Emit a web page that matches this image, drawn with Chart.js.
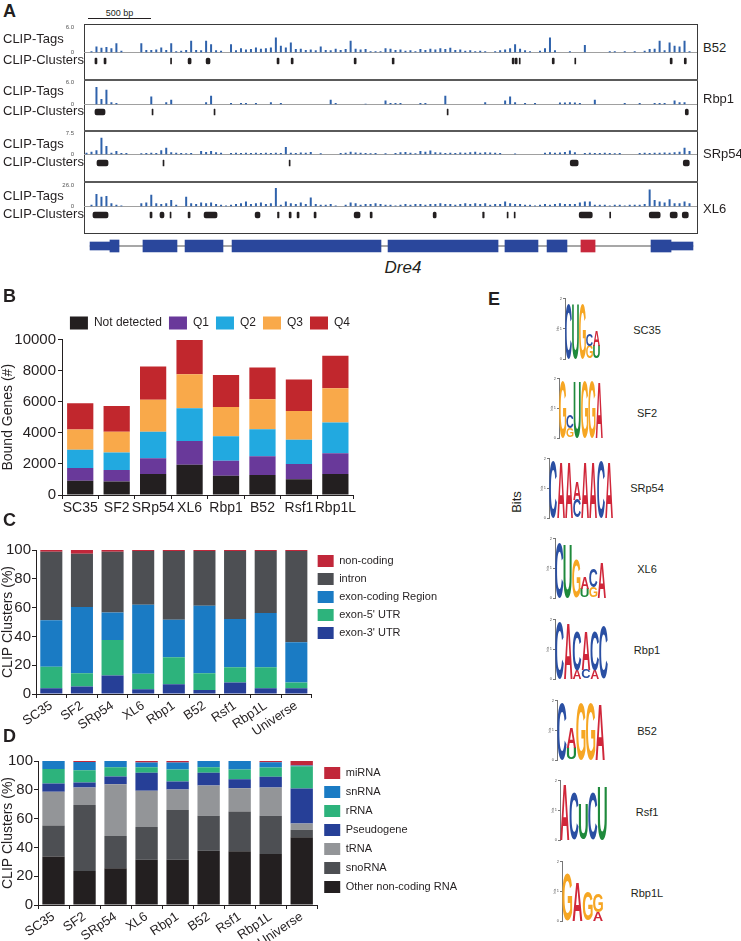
<!DOCTYPE html>
<html>
<head>
<meta charset="utf-8">
<script src="https://cdn.jsdelivr.net/npm/chart.js@4.4.0/dist/chart.umd.min.js"></script>
<style>
  body { margin: 0; width: 741px; height: 941px; position: relative; overflow: hidden; background: #fff;
         font-family: "Liberation Sans", Arial, Helvetica, sans-serif; color: #231f20; }
  .t { position: absolute; white-space: nowrap; line-height: 1; }
</style>
</head>
<body>
<script>
// ---------- data ----------
const GENOME_LEN = 4865;          // bp shown in panel A
const TRACK_NAMES = ['B52', 'Rbp1', 'SRp54', 'XL6'];
const TRACK_MAX = [6.0, 6.0, 7.5, 26.0];

// CLIP tag counts in 40 bp bins along Dre4
const tagsB52 = [0,0.3,1.4,1.1,1.3,1.0,2.2,0.4,0,0, 0,2.2,0.6,0.6,0.7,1.2,0.6,2.2,0.3,0.4,
  0.6,2.8,0.6,0.5,2.8,2.0,0.5,0.4,0,2.0, 0.5,1.0,0.7,0.8,1.2,0.9,1.0,1.2,3.6,1.6,
  1.2,2.4,0.8,0.9,0.6,0.7,0.5,1.4,0.6,0.5, 0.9,0.6,0.8,2.8,0.9,0.7,0.8,0.3,0.3,0.3,
  1.0,0.9,0.6,0.7,0.4,0.5,0.3,0.8,0.6,0.9, 0.7,1.0,0.8,1.1,0.6,0.7,0.4,0.5,0.3,0.4,
  0.3,0,0.3,0.5,0.7,1.0,2.0,0.9,0.5,0.3, 0,0.4,1.0,3.6,0.5,0,0,0.3,0,0,
  1.8,0,0,0,0,0.3,0.3,0,0.3,0, 0.3,0,0.4,0.8,0.9,2.8,0.5,2.4,1.6,1.4, 2.8,0.3,0];
const tagsRbp1 = [0,0,4.8,1.5,4.0,0.6,0.4,0,0,0, 0,0,0,2.2,0,0,0.6,1.3,0,0,
  0,0,0,0,0.6,2.4,0,0,0,0.4, 0,0.4,0.4,0,0.4,0,0,0.6,0,0.4,
  0,0,0,0,0,0,0,0,0,1.3, 0.4,0,0,0,0,0,0.2,0,0,0,
  1.1,0.4,0.4,0.4,0,0,0,0.4,0.4,0, 0,0,2.4,0,0,0,0,0,0,0,
  0.6,0,0,0,1.1,2.2,0.6,0,0.4,0, 0.4,0,0,0,0,0.5,0.5,0.6,0.5,0.4,
  0,0,1.3,0,0,0,0,0,0.4,0, 0,0.4,0,0,0.4,0.4,0.4,0,1.1,0.6, 0.6,0,0];
const tagsSRp54 = [0.6,1.0,1.5,6.0,3.0,0.6,1.2,0.5,0.5,0, 0,0.4,0.5,0.6,0.5,1.5,2.4,0.8,0.6,0.5,
  0.4,0.5,0,1.2,0.9,1.2,0.8,0.6,0,0.5, 0.6,0.5,0.6,0.5,0.6,0.5,0.6,0.5,0.6,0.5,
  2.7,0.6,0.5,0.7,0.6,0.9,0,0.4,0,0, 0,0.5,0.6,1.0,0.7,0.6,0.5,0.4,0.5,0,
  0.4,0,0.5,0.8,0.9,0.6,0.4,1.2,1.0,1.4, 0.8,0.7,0.5,0.6,0.5,0.7,0.6,0.8,1.0,0.6,
  0.8,0.7,0.6,0.5,0,0,0.3,0,0,0, 0,0,0.6,0.8,0.6,0.7,0.9,1.4,0.8,0,
  0.5,0.6,0.5,0.5,0.6,0.5,0.4,0.5,0,0, 0,0.5,0.6,0.5,0.6,0.6,0.7,0.6,0.8,1.0, 2.4,1.2,0];
const tagsXL6 = [0,2,15.6,12,13,4,2,1,0,0, 0,4,5,14.5,4,3,4,8,2,0,
  12,4,3,5,4,5,3,2,1,2, 3,4,6,3,4,5,3,4,23,2,
  6,4,3,5,3,11,3,2,2,3, 1,0,2,5,4,2,3,3,4,3,
  2,2,1,2,3,2,3,3,2,3, 3,4,3,3,2,3,4,3,4,3,
  4,2,3,3,6,4,3,3,2,2, 1,2,3,2,3,4,3,3,3,5,
  6,6,2,2,2,1,2,2,1,2, 2,2,3,21,8,6,5,9,4,4, 6,4,0];

// CLIP clusters [start, end] in bp
const clustersB52 = [[87,103],[159,175],[687,695],[826,850],[969,1000],[1532,1548],[1644,1660],
  [2144,2160],[2446,2461],[3398,3414],[3422,3438],[3454,3462],[3716,3732],[3895,3903],[4652,4668],[4764,4780]];
const clustersRbp1 = [[87,167],[540,548],[1032,1040],[2882,2890],[4772,4796]];
const clustersSRp54 = [[103,191],[627,635],[1628,1636],[3859,3922],[4756,4804]];
const clustersXL6 = [[71,191],[524,540],[603,635],[683,691],[826,842],[953,1056],[1358,1397],
  [1536,1548],[1628,1644],[1691,1707],[1826,1842],[2144,2191],[2271,2287],[2771,2795],[3164,3176],
  [3358,3366],[3414,3422],[3930,4034],[4172,4180],[4486,4573],[4652,4708],[4748,4796]];

// Dre4 gene model in bp
const geneSpan = [[48, 4833]];
const geneUTRs = [[48, 206], [4659, 4833]];
const geneExons = [[206,278],[468,738],[802,1103],[1175,2357],[2413,3286],[3341,3603],[3675,3833],[4500,4659]];
const geneAltExon = [[3944, 4056]];

// Panel B: bound genes per expression quartile
const proteinsB = ['SC35', 'SF2', 'SRp54', 'XL6', 'Rbp1', 'B52', 'Rsf1', 'Rbp1L'];
const quartileNames = ['Not detected', 'Q1', 'Q2', 'Q3', 'Q4'];
const notDetected = [910, 870, 1350, 1950, 1240, 1280, 1020, 1350];
const q1 = [830, 740, 1020, 1520, 970, 1220, 980, 1340];
const q2 = [1170, 1120, 1690, 2110, 1570, 1730, 1560, 1970];
const q3 = [1300, 1330, 2060, 2190, 1880, 1930, 1840, 2200];
const q4 = [1690, 1670, 2140, 2190, 2060, 2040, 2020, 2090];

// Panel C: gene region of CLIP clusters (%)
const proteinsCD = ['SC35', 'SF2', 'SRp54', 'XL6', 'Rbp1', 'B52', 'Rsf1', 'Rbp1L', 'Universe'];
const regionNames = ["exon-3' UTR", "exon-5' UTR", 'exon-coding Region', 'intron', 'non-coding'];
const utr3 = [4.0, 5.2, 12.8, 3.3, 6.8, 2.7, 8.0, 4.0, 4.0];
const utr5 = [15.0, 9.2, 24.7, 10.7, 18.7, 11.7, 10.6, 14.6, 4.0];
const codingExon = [32.3, 46.1, 19.1, 47.9, 26.1, 46.8, 33.4, 37.6, 27.9];
const intron = [47.5, 36.9, 42.2, 37.4, 47.7, 38.1, 47.3, 43.1, 63.4];
const nonCoding = [1.2, 2.6, 1.2, 0.7, 0.7, 0.7, 0.7, 0.7, 0.7];

// Panel D: non-coding RNA class of CLIP clusters (%)
const ncNames = ['Other non-coding RNA', 'snoRNA', 'tRNA', 'Pseudogene', 'rRNA', 'snRNA', 'miRNA'];
const otherNc = [33.6, 23.6, 25.5, 31.4, 31.4, 37.7, 37.3, 35.5, 47.0];
const snoRNA = [21.6, 45.9, 22.5, 22.7, 34.5, 24.3, 27.7, 26.5, 5.3];
const tRNA = [23.4, 12.1, 35.9, 25.2, 14.3, 21.0, 16.1, 19.6, 4.3];
const pseudogene = [5.7, 3.4, 5.4, 12.5, 5.5, 8.8, 6.2, 7.5, 24.3];
const rRNA = [10.2, 8.6, 6.4, 3.9, 8.4, 3.9, 6.8, 6.4, 15.5];
const snRNA = [5.5, 5.7, 4.3, 3.2, 4.8, 4.3, 5.9, 3.6, 0.4];
const miRNA = [0, 0.7, 0, 1.1, 1.1, 0, 0, 0.9, 3.2];

// Panel E: motif logos, letters per position (bottom to top) and their bits
const logoNames = ['SC35', 'SF2', 'SRp54', 'XL6', 'Rbp1', 'B52', 'Rsf1', 'Rbp1L'];
const sc35Letters = ['C', 'U', 'G', 'GC', 'UA'];
const sc35Bits = [[1.85], [1.8], [1.85], [0.43, 0.39], [0.43, 0.5]];
const sf2Letters = ['G', 'GC', 'U', 'G', 'G', 'A'];
const sf2Bits = [[1.9], [0.33, 0.44], [1.9], [1.9], [1.9], [1.9]];
const srp54Letters = ['C', 'A', 'A', 'CA', 'A', 'A', 'C', 'A'];
const srp54Bits = [[1.9], [1.9], [1.9], [0.62, 0.6], [1.9], [1.9], [1.9], [1.9]];
const xl6Letters = ['C', 'U', 'G', 'UA', 'GC', 'A'];
const xl6Bits = [[1.85], [1.8], [1.3], [0.3, 0.4], [0.35, 0.6], [1.2]];
const rbp1Letters = ['C', 'A', 'AC', 'CA', 'AC', 'C'];
const rbp1Bits = [[1.9], [1.9], [0.3, 1.3], [0.3, 1.3], [0.3, 1.3], [1.8]];
const b52Letters = ['C', 'UA', 'G', 'G', 'A'];
const b52Bits = [[1.9], [0.4, 0.7], [1.9], [1.9], [1.9]];
const rsf1Letters = ['A', 'C', 'U', 'C', 'U'];
const rsf1Bits = [[1.9], [1.6], [1.2], [1.6], [1.8]];
const rbp1lLetters = ['G', 'A', 'G', 'AG'];
const rbp1lBits = [[1.6], [1.3], [1.0], [0.3, 0.6]];

// ---------- styling ----------
const TAG_BLUE = '#2f62ab';
const GENE_BLUE = '#2a479c';
const GENE_RED = '#c8283c';
const QUARTILE_COLORS = ['#231f20', '#69399a', '#22a9e0', '#f9a94a', '#c1272d'];
const REGION_COLORS = ['#263f97', '#2db37c', '#1a7bc4', '#4d4f53', '#c1273a'];
const NC_COLORS = ['#231f20', '#4d4f53', '#939598', '#263f97', '#2db37c', '#1a7bc4', '#c1273a'];
const LETTER_COLORS = { A: '#d0273a', C: '#2a4fa3', G: '#f6a623', U: '#1f8a3c' };
const INK = '#231f20';

Chart.defaults.font.family = '"Liberation Sans", Arial, Helvetica, sans-serif';
Chart.defaults.color = INK;
Chart.defaults.animation = false;
Chart.defaults.responsive = false;
Chart.defaults.layout.autoPadding = false;
Chart.defaults.plugins.legend.display = false;
Chart.defaults.plugins.tooltip.enabled = false;

function canvasAt(left, top, width, height) {
    const c = document.createElement('canvas');
    c.width = Math.round(width);
    c.height = Math.round(height);
    c.style.cssText = `position:absolute;left:${left}px;top:${top}px;`;
    document.body.appendChild(c);
    return c;
}

function text(str, x, y, css) {
    const d = document.createElement('div');
    d.className = 't';
    d.textContent = str;
    d.style.left = x + 'px';
    d.style.top = y + 'px';
    if (css) d.style.cssText += css;
    document.body.appendChild(d);
    return d;
}

function box(x, y, w, h, css) {
    const d = document.createElement('div');
    d.style.cssText = `position:absolute;left:${x}px;top:${y}px;width:${w}px;height:${h}px;box-sizing:border-box;${css}`;
    document.body.appendChild(d);
}

// ---------- panel A ----------
text('A', 3, 2, 'font-weight:bold;font-size:18px;');
box(88, 18, 63, 1, 'background:#231f20;');
text('500 bp', 88, 9, 'width:63px;text-align:center;font-size:9px;');
box(84, 24, 614, 210, 'border:1px solid #3a3a3a;');
[79, 130, 181].forEach(y => box(84, y, 614, 2, 'background:#5a5a5a;'));

function tagTrack(values, max, areaTop, areaBottom) {
    const pad = 4;
    new Chart(canvasAt(60, areaTop - pad, 637, areaBottom - areaTop + 2 * pad), {
        type: 'bar',
        data: {
            labels: values.map((v, i) => i),
            datasets: [{ data: values, backgroundColor: TAG_BLUE, barPercentage: 0.4, categoryPercentage: 1 }]
        },
        options: {
            layout: { padding: { top: pad, bottom: pad, left: 0, right: 0 } },
            scales: {
                x: { grid: { display: false }, ticks: { display: false }, border: { color: '#a0a0a0' },
                     afterFit: s => { s.height = 0; } },
                y: { min: 0, max: max, grid: { display: false }, border: { display: false },
                     ticks: { font: { size: 6 }, color: '#555', padding: 2,
                              callback: v => v === 0 ? '0' : v.toFixed(1) },
                     afterBuildTicks: s => { s.ticks = [{ value: 0 }, { value: max }]; },
                     afterFit: s => { s.width = 24; } }
            }
        }
    });
}

function clusterRow(spans, centerY) {
    new Chart(canvasAt(84, centerY - 4, 613, 8), {
        type: 'bar',
        data: {
            labels: ['clusters'],
            datasets: [{ data: spans.map(s => ({ x: s, y: 'clusters' })), backgroundColor: INK,
                         barThickness: 6, borderRadius: 2, borderSkipped: false }]
        },
        options: {
            indexAxis: 'y',
            layout: { padding: 0 },
            scales: { x: { type: 'linear', min: 0, max: GENOME_LEN, display: false }, y: { display: false } }
        }
    });
}

const trackTags = [tagsB52, tagsRbp1, tagsSRp54, tagsXL6];
const trackClusters = [clustersB52, clustersRbp1, clustersSRp54, clustersXL6];
const trackArea = [[26, 54], [81, 106], [132, 156], [184, 208]];
const clusterY = [61, 112, 163, 215];
const tagLabelY = [39, 91, 144, 196];
const nameY = [48, 99, 154, 209];

TRACK_NAMES.forEach((name, i) => {
    tagTrack(trackTags[i], TRACK_MAX[i], trackArea[i][0], trackArea[i][1]);
    clusterRow(trackClusters[i], clusterY[i]);
    text('CLIP-Tags', 3, tagLabelY[i] - 7, 'font-size:13px;');
    text('CLIP-Clusters', 3, clusterY[i] - 8, 'font-size:13px;');
    text(name, 703, nameY[i] - 7, 'font-size:13px;');
});

new Chart(canvasAt(84, 238, 613, 16), {
    type: 'bar',
    data: {
        labels: ['Dre4'],
        datasets: [
            { data: geneExons.map(s => ({ x: s, y: 'Dre4' })), backgroundColor: GENE_BLUE, barThickness: 12, grouped: false, order: 1 },
            { data: geneAltExon.map(s => ({ x: s, y: 'Dre4' })), backgroundColor: GENE_RED, barThickness: 12, grouped: false, order: 1 },
            { data: geneUTRs.map(s => ({ x: s, y: 'Dre4' })), backgroundColor: GENE_BLUE, barThickness: 8, grouped: false, order: 2 },
            { data: geneSpan.map(s => ({ x: s, y: 'Dre4' })), backgroundColor: '#8a8a8a', barThickness: 1, grouped: false, order: 3 }
        ]
    },
    options: {
        indexAxis: 'y',
        layout: { padding: 0 },
        scales: { x: { type: 'linear', min: 0, max: GENOME_LEN, display: false }, y: { display: false } }
    }
});
text('Dre4', 403, 259, 'font-size:17px;font-style:italic;transform:translateX(-50%);');

// ---------- panel B ----------
text('B', 3, 287, 'font-weight:bold;font-size:18px;');
const quartileData = [notDetected, q1, q2, q3, q4];
new Chart(canvasAt(0, 306, 357, 209), {
    type: 'bar',
    data: {
        labels: proteinsB,
        datasets: quartileNames.map((n, i) => ({
            label: n, data: quartileData[i], backgroundColor: QUARTILE_COLORS[i],
            barPercentage: 0.72, categoryPercentage: 1
        }))
    },
    options: {
        layout: { padding: { top: 3.5, left: 0, right: 0, bottom: 0 } },
        plugins: {
            legend: { display: true, position: 'top', align: 'end',
                      labels: { boxWidth: 18, boxHeight: 13, padding: 7, color: INK, font: { size: 12 } } }
        },
        scales: {
            x: { stacked: true, grid: { drawOnChartArea: false, tickLength: 4, color: INK }, border: { color: INK },
                 ticks: { font: { size: 14 }, padding: 1, maxRotation: 0, autoSkip: false },
                 afterFit: s => { s.height = 20; } },
            y: { stacked: true, min: 0, max: 10000,
                 ticks: { stepSize: 2000, font: { size: 15 }, padding: 2, callback: v => String(v) },
                 grid: { drawOnChartArea: false, tickLength: 4, color: INK }, border: { color: INK },
                 title: { display: true, text: 'Bound Genes (#)', font: { size: 14 }, padding: { top: 0, bottom: 2 } },
                 afterFit: s => { s.width = 62; } }
        }
    }
});

// ---------- panels C and D ----------
function percentChart(top, width, yWidth, names, series, colors, legendPad) {
    new Chart(canvasAt(0, top, width, 9 + 145 + 52), {
        type: 'bar',
        data: {
            labels: proteinsCD,
            datasets: names.map((n, i) => ({
                label: n, data: series[i], backgroundColor: colors[i],
                barPercentage: 0.72, categoryPercentage: 1
            }))
        },
        options: {
            layout: { padding: { top: 9, left: 0, right: 0, bottom: 0 } },
            plugins: {
                legend: { display: true, position: 'right', align: 'start', reverse: true, maxWidth: 220,
                          labels: { boxWidth: 16, boxHeight: 12, padding: legendPad, color: INK, font: { size: 11 } } }
            },
            scales: {
                x: { stacked: true, grid: { drawOnChartArea: false, tickLength: 4, color: INK }, border: { color: INK },
                     ticks: { font: { size: 13 }, padding: 0, minRotation: 34, maxRotation: 34, autoSkip: false },
                     afterFit: s => { s.height = 52; } },
                y: { stacked: true, min: 0, max: 100,
                     ticks: { stepSize: 20, font: { size: 15 }, padding: 1 },
                     grid: { drawOnChartArea: false, tickLength: 4, color: INK }, border: { color: INK },
                     title: { display: true, text: 'CLIP Clusters (%)', font: { size: 14 }, padding: { top: 0, bottom: 1 } },
                     afterFit: s => { s.width = yWidth; } }
            }
        }
    });
}

text('C', 3, 511, 'font-weight:bold;font-size:18px;');
percentChart(540, 447, 36, regionNames, [utr3, utr5, codingExon, intron, nonCoding], REGION_COLORS, 6);

text('D', 3, 727, 'font-weight:bold;font-size:18px;');
percentChart(751, 467, 38, ncNames, [otherNc, snoRNA, tRNA, pseudogene, rRNA, snRNA, miRNA], NC_COLORS, 7);

// ---------- panel E ----------
text('E', 488, 290, 'font-weight:bold;font-size:18px;');
text('Bits', 516, 502, 'font-size:13px;transform:translate(-50%,-50%) rotate(-90deg);');

const letterPlugin = {
    id: 'logoLetters',
    afterDatasetsDraw(chart) {
        const ctx = chart.ctx;
        chart.data.datasets.forEach((ds, di) => {
            chart.getDatasetMeta(di).data.forEach((bar, i) => {
                const ch = ds.letters[i];
                if (!ch) return;
                const p = bar.getProps(['x', 'y', 'base', 'width'], true);
                const h = Math.abs(p.base - p.y);
                if (h < 0.5) return;
                ctx.save();
                ctx.font = 'bold 100px "Liberation Sans", Arial, sans-serif';
                ctx.textBaseline = 'alphabetic';
                const m = ctx.measureText(ch);
                const gw = m.actualBoundingBoxLeft + m.actualBoundingBoxRight;
                const gh = m.actualBoundingBoxAscent + m.actualBoundingBoxDescent;
                ctx.translate(p.x - p.width / 2, Math.min(p.y, p.base));
                ctx.scale(p.width / gw, h / gh);
                ctx.fillStyle = LETTER_COLORS[ch];
                ctx.fillText(ch, m.actualBoundingBoxLeft, m.actualBoundingBoxAscent);
                ctx.restore();
            });
        });
    }
};

function logo(letters, bits, left, top, width, height) {
    const depth = Math.max(...bits.map(b => b.length));
    const datasets = [];
    for (let k = 0; k < depth; k++) {
        datasets.push({
            data: bits.map(b => b[k] || 0),
            letters: letters.map(s => s[k] || ''),
            backgroundColor: 'rgba(0,0,0,0)', barPercentage: 1, categoryPercentage: 0.96
        });
    }
    new Chart(canvasAt(left - 9, top - 3, width + 10, height + 8), {
        type: 'bar',
        data: { labels: letters.map((s, i) => i + 1), datasets },
        options: {
            layout: { padding: { top: 3, right: 1, bottom: 0, left: 0 } },
            scales: {
                x: { stacked: true, grid: { display: false }, border: { display: false },
                     ticks: { font: { size: 3 }, padding: 0, maxRotation: 0, color: '#555' },
                     afterFit: s => { s.height = 5; } },
                y: { stacked: true, min: 0, max: 2,
                     ticks: { stepSize: 1, font: { size: 4 }, padding: 1, color: '#555' },
                     grid: { drawOnChartArea: false, tickLength: 2, color: '#777' }, border: { color: '#777' },
                     title: { display: true, text: 'bits', font: { size: 3 }, padding: 0, color: '#555' },
                     afterFit: s => { s.width = 9; } }
            }
        },
        plugins: [letterPlugin]
    });
}

const logoLetters = [sc35Letters, sf2Letters, srp54Letters, xl6Letters, rbp1Letters, b52Letters, rsf1Letters, rbp1lLetters];
const logoBits = [sc35Bits, sf2Bits, srp54Bits, xl6Bits, rbp1Bits, b52Bits, rsf1Bits, rbp1lBits];
const logoBoxes = [[565, 298, 35, 61], [559, 378, 44, 60], [549, 458, 64, 60], [555, 538, 51, 60],
                   [555, 619, 53, 60], [557, 700, 48, 60], [560, 780, 47, 60], [562, 861, 41, 60]];
const logoLabelY = [330, 413, 488, 569, 650, 731, 812, 893];

logoNames.forEach((name, i) => {
    const b = logoBoxes[i];
    logo(logoLetters[i], logoBits[i], b[0], b[1], b[2], b[3]);
    text(name, 647, logoLabelY[i], 'font-size:11px;transform:translate(-50%,-50%);');
});
</script>
</body>
</html>
